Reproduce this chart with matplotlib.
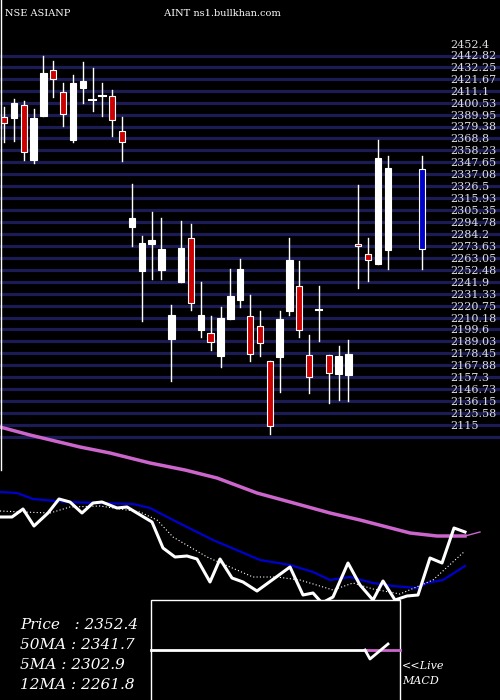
import matplotlib
matplotlib.use("Agg")
import matplotlib.pyplot as plt

# price levels on the right axis
levels = [2452.4, 2442.82, 2432.25, 2421.67, 2411.1, 2400.53, 2389.95, 2379.38,
          2368.8, 2358.23, 2347.65, 2337.08, 2326.5, 2315.93, 2305.35, 2294.78,
          2284.2, 2273.63, 2263.05, 2252.48, 2241.9, 2231.33, 2220.75, 2210.18,
          2199.6, 2189.03, 2178.45, 2167.88, 2157.3, 2146.73, 2136.15, 2125.58, 2115]

# candles
pos = list(range(36)) + [36, 37, 38, 39, 42.5]
opens = [2388.9, 2388.1, 2399.0, 2350.6, 2389.8, 2430.0, 2410.5, 2368.3, 2414.6, 2403.4,
         2406.9, 2407.2, 2376.3, 2291.5, 2252.6, 2276.5, 2253.4, 2192.3, 2242.8, 2281.2,
         2200.3, 2197.0, 2177.3, 2210.0, 2226.9, 2212.4, 2203.6, 2172.3, 2176.4, 2217.1,
         2238.7, 2177.6, 2218.0, 2177.6, 2161.3, 2160.4, 2275.9, 2267.0, 2258.7, 2271.2,
         2342.9]
closes = [2383.0, 2400.8, 2357.4, 2387.8, 2427.6, 2422.0, 2391.0, 2418.8, 2420.5, 2403.4,
          2406.9, 2385.7, 2366.8, 2299.2, 2276.8, 2279.7, 2271.7, 2213.3, 2272.6, 2223.6,
          2213.3, 2189.1, 2210.6, 2230.1, 2254.0, 2178.8, 2188.2, 2114.7, 2209.7, 2262.0,
          2199.7, 2158.1, 2218.0, 2161.6, 2177.0, 2178.8, 2274.4, 2262.0, 2352.3, 2343.5,
          2271.4]
highs = [2397.2, 2404.3, 2402.8, 2395.4, 2442.7, 2438.2, 2418.5, 2425.8, 2437.4, 2431.8,
         2419.1, 2412.6, 2388.4, 2329.3, 2283.3, 2304.5, 2299.2, 2222.1, 2296.5, 2293.9,
         2242.2, 2212.4, 2220.7, 2254.0, 2262.6, 2231.0, 2216.8, 2172.3, 2216.8, 2281.5,
         2261.4, 2195.6, 2239.0, 2177.6, 2185.8, 2191.2, 2328.4, 2281.2, 2368.3, 2354.1,
         2354.1]
lows = [2366.8, 2367.7, 2350.6, 2347.6, 2389.8, 2406.7, 2380.7, 2366.8, 2401.3, 2394.3,
        2389.5, 2371.8, 2349.7, 2274.7, 2208.3, 2245.5, 2245.5, 2155.1, 2242.8, 2217.7,
        2193.5, 2182.3, 2167.5, 2209.4, 2220.7, 2172.9, 2177.3, 2107.9, 2145.4, 2213.3,
        2193.5, 2143.9, 2190.6, 2135.1, 2138.0, 2137.4, 2236.9, 2243.7, 2258.7, 2253.7,
        2253.7]

# lower panel indicator lines (x, y in panel units)
ma50_x = [0, 30, 80, 110, 150, 185, 217, 257, 290, 330, 360, 410, 437, 465]
ma50_y = [427, 435, 447, 453, 463, 470, 478, 493, 502, 513, 520, 533, 536, 536]
blue_x = [0, 17, 33, 67, 100, 133, 150, 173, 213, 260, 290, 313, 330, 350, 373, 393, 417, 427, 443, 465]
blue_y = [492, 493, 499, 502, 503, 504, 508, 520, 540, 560, 565, 572, 580, 577, 583, 586, 588, 583, 580, 566]
px_x = [0, 12, 23, 34, 48, 59, 70, 82, 93, 102, 117, 127, 137, 152, 163, 175, 187, 197, 210,
        220, 232, 243, 257, 290, 303, 313, 322, 333, 348, 360, 373, 383, 395, 407, 418, 430,
        442, 454, 465]
px_y = [517, 517, 509, 526, 513, 499, 502, 513, 503, 502, 508, 507, 513, 522, 548, 557, 556,
        559, 582, 559, 578, 582, 591, 567, 595, 593, 603, 597, 563, 585, 600, 581, 600, 596,
        595, 558, 563, 528, 532]
ma12_x = [0, 23, 50, 70, 100, 140, 157, 173, 207, 253, 277, 300, 333, 353, 373, 400, 433, 465]
ma12_y = [511, 512, 513, 507, 506, 512, 520, 537, 557, 577, 577, 580, 590, 583, 589, 594, 580, 551]
macd_x = [365, 370, 388]
macd_y = [650, 659, 644]

info = ["Price   : 2352.4", "50MA : 2341.7", "5MA : 2302.9", "12MA : 2261.8"]

fig = plt.figure(figsize=(5, 7), dpi=100, facecolor="black")
ax = fig.add_axes([0, 0, 1, 1])
ax.set_facecolor("black")
ax.set_xlim(-0.41, 50.4)
ax.set_ylim(1872.3, 2492.3)
ax.axis("off")

for lv in levels:
    ax.axhline(lv - 9.7, color="#1c1c55", lw=2.3, zorder=1)
    ax.text(45.3, lv, f"{lv:g}", color="#dddddd", fontsize=8, family="DejaVu Serif",
            va="center", ha="left", zorder=3)

for i, (x, o, c, h, l) in enumerate(zip(pos, opens, closes, highs, lows)):
    if i == len(pos) - 1:
        fc = "#0000cc"
    elif c > o:
        fc = "white"
    elif c < o:
        fc = "#cc0000"
    else:
        fc = "white"
    ax.plot([x, x], [l, h], color="white", lw=1, zorder=2)
    bot, ht = min(o, c), abs(c - o)
    if ht < 1.5:
        ax.plot([x - 0.32, x + 0.32], [o, o], color="white", lw=1.5, zorder=2)
        if fc != "white":
            ax.bar(x, 2.0, bottom=o - 1.0, width=0.65, color=fc, edgecolor="white", lw=0.8, zorder=2)
    else:
        ax.bar(x, ht, bottom=bot, width=0.65, color=fc, edgecolor="white", lw=0.8, zorder=2)

ax.text(0.1, 2480, "NSE ASIANP                              AINT ns1.bullkhan.com",
        color="white", fontsize=7, family="DejaVu Serif", va="center")

bx = fig.add_axes([0, 0, 1, 1])
bx.patch.set_alpha(0)
bx.set_xlim(0, 500)
bx.set_ylim(700, 0)
bx.axis("off")
bx.plot(ma50_x, ma50_y, color="#cc66cc", lw=2.5)
bx.plot([465, 480], [536, 532], color="#cc66cc", lw=1)
bx.plot(blue_x, blue_y, color="#0000cc", lw=1.6)
bx.plot(ma12_x, ma12_y, color="white", lw=0.8, ls=(0, (1, 2)))
bx.plot(px_x, px_y, color="white", lw=2.2)
bx.add_patch(plt.Rectangle((151, 600), 249, 102, facecolor="black", edgecolor="white", lw=1, zorder=5))
bx.plot([151, 366], [650, 650], color="white", lw=2, zorder=6)
bx.plot([366, 400], [650, 650], color="#cc66cc", lw=2, zorder=6)
bx.plot(macd_x, macd_y, color="white", lw=2, zorder=7)
bx.plot([1, 1], [0, 470], color="white", lw=1)
for k, s in enumerate(info):
    bx.text(20, 625 + 20 * k, s, color="white", fontsize=11, family="DejaVu Serif",
            style="italic", va="center")
bx.text(402, 666, "<<Live", color="white", fontsize=8, family="DejaVu Serif", style="italic", va="center")
bx.text(402, 681, "MACD", color="white", fontsize=8, family="DejaVu Serif", style="italic", va="center")

fig.savefig("out.png", dpi=100, facecolor="black")
